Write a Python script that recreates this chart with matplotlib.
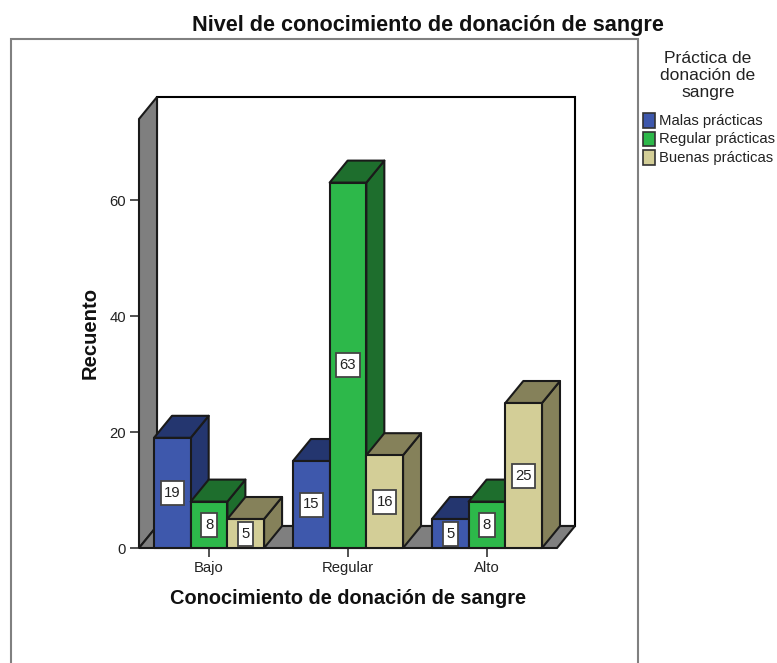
import numpy as np
import matplotlib
matplotlib.use('Agg')
import matplotlib.pyplot as plt
from matplotlib.patches import Polygon, Rectangle
from matplotlib.path import Path

plt.rcParams['font.family'] = ['Liberation Sans', 'DejaVu Sans']

categorias = ['Bajo', 'Regular', 'Alto']
series = ['Malas prácticas', 'Regular prácticas', 'Buenas prácticas']
malas = [19, 15, 5]
regular = [8, 63, 8]
buenas = [5, 16, 25]
y_ticks = [0, 20, 40, 60]

W, H = 777, 663
colores = ['#3E58AC', '#2DB84A', '#D3CE97']
oscuros = ['#24366F', '#1E6E2D', '#85815A']
gris = '#7F7F7F'
borde = '#1A1A1A'

fig = plt.figure(figsize=(W / 100, H / 100), dpi=100, facecolor='white')


def fx(x):
    return x / W


def fy(y):
    return 1 - y / H


# caja de etiqueta: mas alta que ancha, como en SPSS
def caja(x0, y0, width, height, mutation_size):
    cx = x0 + width / 2
    cy = y0 + height / 2
    mw = width / 2 + 3.5
    mh = 12
    return Path([(cx - mw, cy - mh), (cx + mw, cy - mh), (cx + mw, cy + mh), (cx - mw, cy + mh), (cx - mw, cy - mh)],
                closed=True)


# marco gris de fuera
fig.add_artist(Rectangle((fx(11), fy(700)), fx(627), 661 / H, transform=fig.transFigure,
                         fill=False, edgecolor='#808080', lw=1.5, clip_on=True))

# ejes: suelo delantero de 139 a 557 px, y=0 en 548 px, y=60 en 200 px
ax = fig.add_axes([fx(139), fy(548), 418 / W, 429 / H])
ax.set_xlim(-0.504, 2.504)
ax.set_ylim(0, 429 / 5.8)
ax.patch.set_alpha(0)
for s in ax.spines.values():
    s.set_visible(False)

dx = 18 / 139
dy = 22 / 5.8
x0, x1 = ax.get_xlim()
y1 = ax.get_ylim()[1]

# paredes y suelo
ax.add_patch(Polygon([(x0 + dx, dy), (x1 + dx, dy), (x1 + dx, y1 + dy), (x0 + dx, y1 + dy)],
                     closed=True, facecolor='white', edgecolor='black', lw=1.5, clip_on=False, zorder=1))
ax.add_patch(Polygon([(x0, 0), (x0 + dx, dy), (x0 + dx, y1 + dy), (x0, y1)],
                     closed=True, facecolor=gris, edgecolor=borde, lw=1.5, clip_on=False, zorder=2))
ax.add_patch(Polygon([(x0, 0), (x1, 0), (x1 + dx, dy), (x0 + dx, dy)],
                     closed=True, facecolor=gris, edgecolor=borde, lw=1.5, clip_on=False, zorder=2))

# barras
ancho = 36.7 / 139
z = 3
for i in range(len(categorias)):
    for j, valores in enumerate([malas, regular, buenas]):
        v = valores[i]
        izq = i + (j - 1.5) * ancho
        der = izq + ancho
        kw = dict(edgecolor=borde, lw=1.5, clip_on=False, zorder=z, joinstyle='round')
        ax.add_patch(Polygon([(der, 0), (der + dx, dy), (der + dx, v + dy), (der, v)], closed=True,
                             facecolor=oscuros[j], **kw))
        ax.add_patch(Polygon([(izq, v), (der, v), (der + dx, v + dy), (izq + dx, v + dy)], closed=True,
                             facecolor=oscuros[j], **kw))
        ax.add_patch(Rectangle((izq, 0), ancho, v, facecolor=colores[j], **kw))
        ax.text((izq + der) / 2, v / 2, str(v), ha='center', va='center', fontsize=10.7, color='#222222',
                zorder=z + 1, bbox=dict(boxstyle=caja, facecolor='white', edgecolor='#444444', lw=1.3))
        z += 2

ax.set_xticks(range(len(categorias)))
ax.set_xticklabels(categorias, fontsize=10.7, color='#222222')
ax.set_yticks(y_ticks)
ax.set_yticklabels([str(t) for t in y_ticks], fontsize=10.7, color='#222222')
ax.tick_params(axis='both', length=6.5, width=1.2, color='#333333', pad=3)

fig.text(fx(348), fy(599), 'Conocimiento de donación de sangre', fontsize=14.4, fontweight='bold',
         ha='center', va='center', color='#111111')
fig.text(fx(90), fy(333), 'Recuento', fontsize=14.6, fontweight='bold', rotation=90,
         ha='center', va='center', color='#111111')
fig.text(fx(428), fy(25.5), 'Nivel de conocimiento de donación de sangre', fontsize=15.6, fontweight='bold',
         ha='center', va='center', color='#111111')

# leyenda
fig.text(fx(708), fy(75.5), 'Práctica de\ndonación de\nsangre', fontsize=12.6, ha='center', va='center',
         linespacing=1.17, color='#222222')
for k, nombre in enumerate(series):
    y_leg = 120.5 + k * 18.5
    fig.add_artist(Rectangle((fx(643), fy(y_leg + 7)), 12 / W, 14 / H, transform=fig.transFigure,
                             facecolor=colores[k], edgecolor='#333333', lw=1.2))
    fig.text(fx(659), fy(y_leg), nombre, fontsize=10.7, ha='left', va='center', color='#222222')

fig.savefig('out.png', dpi=100)
